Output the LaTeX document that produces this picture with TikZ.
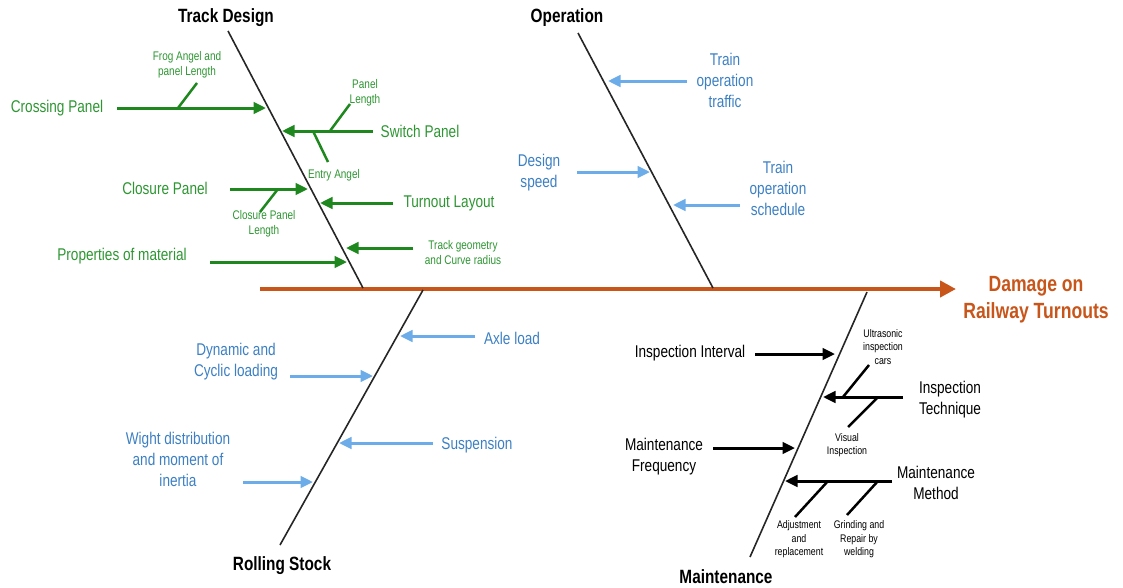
\documentclass[tikz,border=0pt]{standalone}
\usepackage{fontspec}
\setmainfont{Liberation Sans}[FakeStretch=0.8]
\usetikzlibrary{arrows.meta}
\definecolor{spinecol}{RGB}{200,85,26}
\definecolor{grnline}{RGB}{30,135,30}
\definecolor{grntext}{RGB}{45,150,50}
\definecolor{blueline}{RGB}{108,172,232}
\definecolor{bluetext}{RGB}{60,128,195}
\tikzset{
  head/.style={font=\fontsize{19.2}{21}\selectfont\bfseries, inner sep=0pt},
  effect/.style={font=\fontsize{22}{27}\selectfont\bfseries, text=spinecol, align=center, inner sep=0pt},
  big/.style={font=\fontsize{17}{21}\selectfont, align=center, inner sep=0pt},
  small/.style={font=\fontsize{12.5}{15}\selectfont, align=center, inner sep=0pt},
  tiny/.style={font=\fontsize{11}{13.5}\selectfont, align=center, inner sep=0pt},
  bone/.style={line width=1.6pt, draw=black!85},
  cause/.style={line width=3pt, -{Triangle[length=12.5pt,width=11.5pt]}},
  subcause/.style={line width=2.5pt},
  grn/.style={draw=grnline, text=grntext},
  blu/.style={draw=blueline, text=bluetext},
  blk/.style={draw=black, text=black},
}
\begin{document}
\begin{tikzpicture}[x=1pt,y=-1pt]
\useasboundingbox (0,0) rectangle (1123,587);

% ---- main spine and effect ----
\coordinate (sp0) at (260,289);
\coordinate (sp1) at (956,289);
\draw[spinecol, line width=4.8pt, -{Triangle[length=16pt,width=16pt]}] (sp0) -- (sp1);
\node[effect] (effect) at (1036,299.5) {Damage on\\Railway Turnouts};

% ---- category bones ----
\node[head] (tdL) at (226,18) {Track Design};
\coordinate (td0) at (228,31);   \coordinate (td1) at (363,288);
\draw[bone] (td0) -- (td1);

\node[head] (opL) at (567,18) {Operation};
\coordinate (op0) at (578,33);   \coordinate (op1) at (713,288);
\draw[bone] (op0) -- (op1);

\node[head] (rsL) at (282,566) {Rolling Stock};
\coordinate (rs0) at (423,290);  \coordinate (rs1) at (280,545);
\draw[bone] (rs0) -- (rs1);

\node[head] (mtL) at (726,577) {Maintenance};
\coordinate (mt0) at (867,292);  \coordinate (mt1) at (750,557);
\draw[bone] (mt0) -- (mt1);

% ---- Track Design causes ----
\begin{scope}[grn]
\node[big] (cross) at (57,108) {Crossing Panel};
\coordinate (crossA) at (117,108); \coordinate (crossB) at (266,108);
\draw[cause] (crossA) -- (crossB);
\coordinate (frogA) at (178,108); \coordinate (frogB) at (197,83);
\draw[subcause] (frogA) -- (frogB);
\node[small] (frog) at (187,64.5) {Frog Angel and\\panel Length};

\node[big] (switch) at (420,131) {Switch Panel};
\coordinate (switchA) at (373,131); \coordinate (switchB) at (282,131);
\draw[cause] (switchA) -- (switchB);
\coordinate (plA) at (330,131); \coordinate (plB) at (350,104);
\draw[subcause] (plA) -- (plB);
\node[small] (plen) at (365,93) {Panel\\Length};
\coordinate (eaA) at (313,131); \coordinate (eaB) at (328,162);
\draw[subcause] (eaA) -- (eaB);
\node[small] (entry) at (334,175) {Entry Angel};

\node[big] (closure) at (165,188) {Closure Panel};
\coordinate (closA) at (230,189); \coordinate (closB) at (308,189);
\draw[cause] (closA) -- (closB);
\coordinate (clA) at (278,189); \coordinate (clB) at (260,212);
\draw[subcause] (clA) -- (clB);
\node[small] (clen) at (264,223.5) {Closure Panel\\Length};

\node[big] (layout) at (449,203) {Turnout Layout};
\coordinate (layA) at (393,203); \coordinate (layB) at (320,203);
\draw[cause] (layA) -- (layB);

\node[small] (geom) at (463,253) {Track geometry\\and Curve radius};
\coordinate (geoA) at (413,248); \coordinate (geoB) at (346,248);
\draw[cause] (geoA) -- (geoB);

\node[big] (matl) at (122,256) {Properties of material};
\coordinate (matA) at (210,262); \coordinate (matB) at (347,262);
\draw[cause] (matA) -- (matB);
\end{scope}

% ---- Operation causes ----
\begin{scope}[blu]
\node[big] (traffic) at (725,80) {Train\\operation\\traffic};
\coordinate (trA) at (687,81); \coordinate (trB) at (608,81);
\draw[cause] (trA) -- (trB);

\node[big] (speed) at (539,172.5) {Design\\speed};
\coordinate (spA) at (577,172); \coordinate (spB) at (650,172);
\draw[cause] (spA) -- (spB);

\node[big] (sched) at (778,188) {Train\\operation\\schedule};
\coordinate (scA) at (740,205); \coordinate (scB) at (673,205);
\draw[cause] (scA) -- (scB);
\end{scope}

% ---- Rolling Stock causes ----
\begin{scope}[blu]
\node[big] (axle) at (512,338) {Axle load};
\coordinate (axA) at (475,336); \coordinate (axB) at (400,336);
\draw[cause] (axA) -- (axB);

\node[big] (dyn) at (236,361.5) {Dynamic and\\Cyclic loading};
\coordinate (dyA) at (290,376); \coordinate (dyB) at (373,376);
\draw[cause] (dyA) -- (dyB);

\node[big] (susp) at (477,445) {Suspension};
\coordinate (suA) at (433,443); \coordinate (suB) at (339,443);
\draw[cause] (suA) -- (suB);

\node[big] (weight) at (178,459) {Wight distribution\\and moment of\\inertia};
\coordinate (wtA) at (243,482); \coordinate (wtB) at (313,482);
\draw[cause] (wtA) -- (wtB);
\end{scope}

% ---- Maintenance causes ----
\begin{scope}[blk]
\node[big] (interval) at (690,353) {Inspection Interval};
\coordinate (inA) at (755,354); \coordinate (inB) at (835,354);
\draw[cause] (inA) -- (inB);

\node[big] (tech) at (950,400) {Inspection\\Technique};
\coordinate (teA) at (903,397); \coordinate (teB) at (823,397);
\draw[cause] (teA) -- (teB);
\coordinate (usA) at (843,397); \coordinate (usB) at (869,365);
\draw[subcause] (usA) -- (usB);
\node[tiny] (ultra) at (883,347) {Ultrasonic\\inspection\\cars};
\coordinate (viA) at (878,397); \coordinate (viB) at (848,427);
\draw[subcause] (viA) -- (viB);
\node[tiny] (visual) at (847,445) {Visual\\Inspection};

\node[big] (freq) at (664,456.5) {Maintenance\\Frequency};
\coordinate (frA) at (713,448); \coordinate (frB) at (795,448);
\draw[cause] (frA) -- (frB);

\node[big] (method) at (936,482.5) {Maintenance\\Method};
\coordinate (meA) at (892,481); \coordinate (meB) at (785,481);
\draw[cause] (meA) -- (meB);
\coordinate (adA) at (828,481); \coordinate (adB) at (795,517);
\draw[subcause] (adA) -- (adB);
\coordinate (grA) at (878,481); \coordinate (grB) at (847,515);
\draw[subcause] (grA) -- (grB);
\node[tiny] (adjust) at (799,539.5) {Adjustment\\and\\replacement};
\node[tiny] (grind) at (859,539.5) {Grinding and\\Repair by\\welding};
\end{scope}
\end{tikzpicture}
\end{document}
